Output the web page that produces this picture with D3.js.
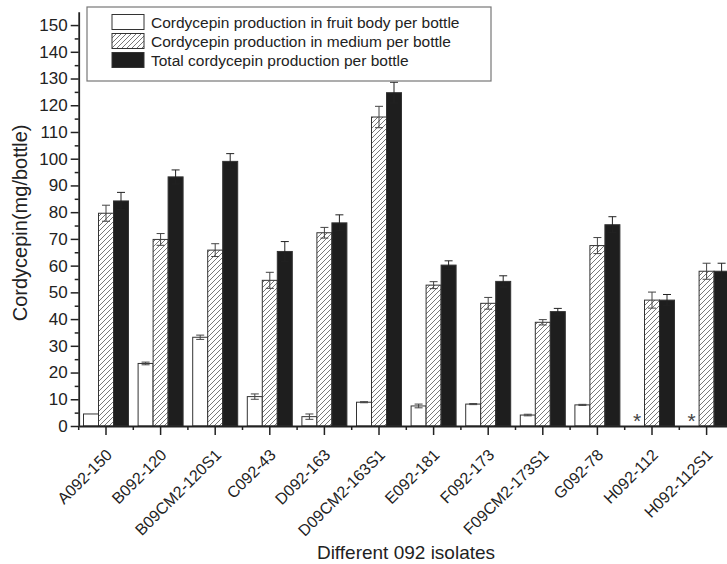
<!DOCTYPE html>
<html>
<head>
<meta charset="utf-8">
<script src="https://cdn.jsdelivr.net/npm/d3@7"></script>
<style>
  html, body { margin: 0; padding: 0; background: #fff; }
  svg { display: block; font-family: "Liberation Sans", Arial, sans-serif; }
</style>
</head>
<body>
<svg id="chart" width="727" height="564"></svg>
<script>
const categories = ["A092-150","B092-120","B09CM2-120S1","C092-43","D092-163","D09CM2-163S1","E092-181","F092-173","F09CM2-173S1","G092-78","H092-112","H092-112S1"];
const fruitBody  = [4.5, 23.4, 33.2, 11.0, 3.5, 8.9, 7.5, 8.2, 4.1, 7.9, 0, 0];
const fruitErr   = [0, 0.5, 0.8, 1.0, 1.0, 0.2, 0.7, 0.2, 0.3, 0.2, 0, 0];
const medium     = [79.6, 69.8, 65.8, 54.5, 72.3, 115.6, 52.7, 45.9, 38.8, 67.5, 47.1, 57.9];
const mediumErr  = [3.0, 2.2, 2.4, 3.0, 2.0, 4.0, 1.3, 2.2, 1.0, 3.0, 3.0, 3.0];
const total      = [84.2, 93.2, 99.0, 65.3, 76.0, 124.7, 60.2, 54.1, 42.8, 75.3, 47.1, 57.9];
const totalErr   = [3.2, 2.6, 2.9, 3.7, 3.0, 3.9, 1.6, 2.1, 1.2, 3.0, 2.1, 3.0];
const notDetected = [false, false, false, false, false, false, false, false, false, false, true, true];
const seriesNames = ["Cordycepin production in fruit body per bottle", "Cordycepin production in medium per bottle", "Total cordycepin production per bottle"];
const yTicks = d3.range(0, 151, 10);
const yMinorTicks = d3.range(5, 155, 10);
const yLabel = "Cordycepin(mg/bottle)";
const xLabel = "Different 092 isolates";

const svg = d3.select("#chart");
const defs = svg.append("defs");
const pat = defs.append("pattern").attr("id", "hatch").attr("patternUnits", "userSpaceOnUse")
  .attr("width", 5).attr("height", 5);
pat.append("rect").attr("width", 5).attr("height", 5).attr("fill", "#fff");
pat.append("path").attr("d", "M-1,6 L6,-1 M-1,1 L1,-1 M4,6 L6,4").attr("stroke", "#555").attr("stroke-width", 0.8);

const left = 78.7, bottom = 426, groupW = 54.6;
const x = d3.scaleBand().domain(categories).range([left, left + groupW * categories.length]).padding(0);
const y = d3.scaleLinear().domain([0, 155]).range([bottom, 11.7]);
const barW = 15;
const sub = d3.scaleBand().domain([0, 1, 2]).range([0, barW * 3]).padding(0);
const offset = x.bandwidth() / 2 - (barW * 3) / 2;

const series = [
  { vals: fruitBody, errs: fruitErr, fill: "#fff" },
  { vals: medium, errs: mediumErr, fill: "url(#hatch)" },
  { vals: total, errs: totalErr, fill: "#1e1e1e" }
];

const gBars = svg.append("g");
series.forEach((s, si) => {
  const data = categories.map((c, i) => ({ c, v: s.vals[i], e: s.errs[i], i }));
  gBars.selectAll(null).data(data.filter(d => d.v > 0)).enter().append("rect")
    .attr("x", d => x(d.c) + offset + sub(si))
    .attr("y", d => y(d.v))
    .attr("width", sub.bandwidth())
    .attr("height", d => bottom - y(d.v))
    .attr("fill", s.fill)
    .attr("stroke", "#333").attr("stroke-width", 1);
  const eb = gBars.selectAll(null).data(data.filter(d => d.v > 0 && d.e > 0)).enter().append("g")
    .attr("stroke", si === 2 ? "#222" : "#444").attr("stroke-width", 1);
  const cx = d => x(d.c) + offset + sub(si) + sub.bandwidth() / 2;
  eb.append("line").attr("x1", cx).attr("x2", cx).attr("y1", d => y(d.v - d.e)).attr("y2", d => y(d.v + d.e));
  eb.append("line").attr("x1", d => cx(d) - 4).attr("x2", d => cx(d) + 4).attr("y1", d => y(d.v + d.e)).attr("y2", d => y(d.v + d.e));
  eb.append("line").attr("x1", d => cx(d) - 4).attr("x2", d => cx(d) + 4).attr("y1", d => y(d.v - d.e)).attr("y2", d => y(d.v - d.e));
});

// asterisks for not detected
svg.append("g").selectAll(null).data(categories.filter((c, i) => notDetected[i])).enter().append("text")
  .attr("x", c => x(c) + offset + sub(0) + sub.bandwidth() / 2)
  .attr("y", bottom + 2)
  .attr("text-anchor", "middle").attr("font-size", 21).attr("fill", "#444")
  .text("*");

// Y axis
const yAxis = svg.append("g").attr("transform", `translate(${left},0)`)
  .call(d3.axisLeft(y).tickValues(yTicks).tickSize(8).tickSizeOuter(0).tickPadding(3));
yAxis.selectAll("text").attr("font-size", 17).attr("fill", "#222").attr("font-family", "Liberation Sans, Arial, sans-serif");
const yMinor = svg.append("g").attr("transform", `translate(${left},0)`)
  .call(d3.axisLeft(y).tickValues(yMinorTicks).tickSize(4).tickFormat(""));
yMinor.select(".domain").remove();

// X axis
const xAxis = svg.append("g").attr("transform", `translate(0,${bottom})`)
  .call(d3.axisBottom(x).tickSize(9).tickSizeOuter(0).tickFormat(""));
const boundaries = d3.range(0, categories.length + 1).map(i => left + i * groupW);
svg.append("g").selectAll(null).data(boundaries).enter().append("line")
  .attr("x1", d => d).attr("x2", d => d).attr("y1", bottom).attr("y2", bottom + 4)
  .attr("stroke", "#222").attr("stroke-width", 1.5);

[yAxis, yMinor, xAxis].forEach(g => {
  g.selectAll("line").attr("stroke", "#222").attr("stroke-width", 1.5);
  g.selectAll(".domain").attr("stroke", "#222").attr("stroke-width", 1.8);
});

// X tick labels
svg.append("g").selectAll(null).data(categories).enter().append("text")
  .attr("transform", c => `translate(${x(c) + x.bandwidth() / 2 + 7},${bottom + 30}) rotate(-45)`)
  .attr("text-anchor", "end").attr("font-size", 16).attr("fill", "#222")
  .text(c => c);

// Axis titles
svg.append("text").attr("transform", `translate(27,${(bottom + 11.7) / 2 + 4}) rotate(-90)`)
  .attr("text-anchor", "middle").attr("font-size", 20).attr("fill", "#222").text(yLabel);
svg.append("text").attr("x", 406).attr("y", 559)
  .attr("text-anchor", "middle").attr("font-size", 19).attr("fill", "#222").text(xLabel);

// Legend
const lg = svg.append("g");
lg.append("rect").attr("x", 87).attr("y", 7).attr("width", 404).attr("height", 74)
  .attr("fill", "#fff").attr("stroke", "#777").attr("stroke-width", 1.2);
const rowY = [22, 41, 60];
seriesNames.forEach((name, i) => {
  lg.append("rect").attr("x", 112).attr("y", rowY[i] - 7.5).attr("width", 32).attr("height", 15)
    .attr("fill", series[i].fill).attr("stroke", "#333").attr("stroke-width", 1);
  lg.append("text").attr("x", 151).attr("y", rowY[i]).attr("dy", "0.36em")
    .attr("font-size", 15.5).attr("fill", "#222").text(name);
});
</script>
</body>
</html>
